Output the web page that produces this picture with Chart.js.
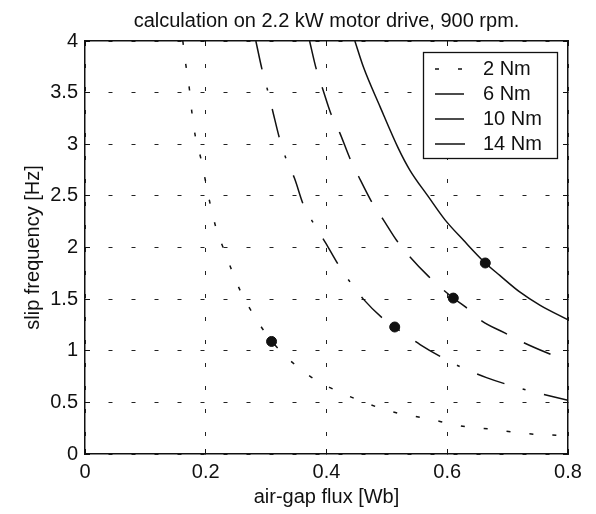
<!DOCTYPE html>
<html>
<head>
<meta charset="utf-8">
<script src="https://cdn.jsdelivr.net/npm/chart.js@4.4.1/dist/chart.umd.min.js"></script>
<style>
  html, body { margin: 0; padding: 0; background: #fff; }
  canvas { display: block; }
</style>
</head>
<body>
<canvas id="slip_chart" width="596" height="514"></canvas>
<script>
// values
const xTicks = [0, 0.2, 0.4, 0.6, 0.8];
const yTicks = [0, 0.5, 1, 1.5, 2, 2.5, 3, 3.5, 4];

const labels = ["2 Nm", "6 Nm", "10 Nm", "14 Nm"];

const flux2 = [0.162, 0.167, 0.173, 0.177, 0.183, 0.192, 0.207, 0.217, 0.230, 0.243, 0.258, 0.278, 0.298, 0.323, 0.351, 0.381, 0.414, 0.450, 0.486, 0.522, 0.560, 0.635, 0.674, 0.712, 0.748, 0.787, 0.800];
const slip2 = [4.00, 3.77, 3.53, 3.31, 3.07, 2.86, 2.43, 2.19, 1.98, 1.78, 1.57, 1.36, 1.18, 1.00, 0.85, 0.72, 0.62, 0.53, 0.45, 0.39, 0.35, 0.26, 0.24, 0.21, 0.19, 0.18, 0.17];

const flux6 = [0.283, 0.293, 0.303, 0.311, 0.322, 0.333, 0.347, 0.362, 0.379, 0.398, 0.421, 0.441, 0.461, 0.494, 0.513, 0.555, 0.593, 0.627, 0.665, 0.701, 0.737, 0.800];
const slip6 = [4.00, 3.73, 3.51, 3.32, 3.06, 2.86, 2.67, 2.41, 2.23, 2.05, 1.82, 1.65, 1.50, 1.31, 1.23, 1.06, 0.93, 0.83, 0.74, 0.67, 0.61, 0.52];

const flux10 = [0.372, 0.383, 0.394, 0.407, 0.422, 0.439, 0.453, 0.475, 0.494, 0.516, 0.538, 0.569, 0.610, 0.629, 0.657, 0.696, 0.726, 0.765, 0.800];
const slip10 = [4.00, 3.73, 3.53, 3.30, 3.11, 2.86, 2.69, 2.44, 2.27, 2.07, 1.91, 1.72, 1.51, 1.43, 1.29, 1.17, 1.08, 0.98, 0.90];

const flux14 = [0.447, 0.461, 0.489, 0.519, 0.538, 0.569, 0.596, 0.627, 0.663, 0.687, 0.720, 0.754, 0.800];
const slip14 = [4.00, 3.75, 3.36, 2.96, 2.75, 2.49, 2.27, 2.07, 1.85, 1.73, 1.57, 1.44, 1.30];

// operating points (black dots)
const opFlux = [0.309, 0.513, 0.610, 0.663];
const opSlip = [1.09, 1.23, 1.51, 1.85];

const FONT = "'Liberation Sans', Arial, Helvetica, sans-serif";
const INK = "#111";

function toPoints(xs, ys) {
    return xs.map((x, i) => ({ x: x, y: ys[i] }));
}

function curve(label, xs, ys, dash) {
    return {
        label: label,
        data: toPoints(xs, ys),
        showLine: true,
        borderColor: INK,
        borderWidth: 1.5,
        borderDash: dash,
        pointRadius: 0,
        cubicInterpolationMode: "monotone",
        fill: false,
    };
}

// legend drawn inside the plot, like the matlab box
const boxLegend = {
    id: "boxLegend",
    afterDraw(chart) {
        const { ctx, chartArea } = chart;
        const w = 134, h = 106;
        const left = chartArea.right - 11 - w;
        const top = chartArea.top + 11;
        ctx.save();
        ctx.fillStyle = "#fff";
        ctx.fillRect(left, top, w, h);
        ctx.strokeStyle = INK;
        ctx.lineWidth = 1.3;
        ctx.strokeRect(left + 0.5, top + 0.5, w, h);
        ctx.font = "20px " + FONT;
        ctx.textBaseline = "middle";
        ctx.fillStyle = INK;
        chart.data.datasets.slice(0, 4).forEach((ds, i) => {
            const y = top + 17 + i * 25;
            ctx.setLineDash(ds.borderDash || []);
            ctx.lineWidth = ds.borderWidth;
            ctx.beginPath();
            ctx.moveTo(left + 12, y);
            ctx.lineTo(left + 42, y);
            ctx.stroke();
            ctx.setLineDash([]);
            ctx.fillText(ds.label, left + 60, y);
        });
        ctx.restore();
    },
};

const setTicks = (list) => (scale) => {
    scale.ticks = list.map((v) => ({ value: v }));
};

// dotted matlab grid; in v4 the grid dash lives under "border"
const gridDotted = {
    color: "#222",
    lineWidth: 1,
    tickLength: -5,
    tickColor: INK,
    tickWidth: 1,
    tickBorderDash: [],
};
const frame = { display: true, color: INK, width: 1.5, dash: [4, 19] };

const slip_chart = document.getElementById("slip_chart");

new Chart(slip_chart, {
    type: "scatter",
    data: {
        datasets: [
            curve(labels[0], flux2, slip2, [4, 19]),
            curve(labels[1], flux6, slip6, [29, 19, 3, 19]),
            curve(labels[2], flux10, slip10, [29, 19]),
            curve(labels[3], flux14, slip14, []),
            {
                label: "operating point",
                data: toPoints(opFlux, opSlip),
                showLine: false,
                pointRadius: 5,
                pointBackgroundColor: INK,
                pointBorderColor: INK,
            },
        ],
    },
    options: {
        responsive: false,
        animation: false,
        layout: { padding: { left: 0, right: 28, top: 0, bottom: 0 } },
        plugins: {
            legend: { display: false },
            tooltip: { enabled: false },
        },
        scales: {
            x: {
                type: "linear",
                position: "bottom",
                min: 0,
                max: 0.8,
                afterBuildTicks: setTicks(xTicks),
                afterFit: (s) => { s.height = 60; },
                grid: gridDotted,
                border: frame,
                ticks: {
                    autoSkip: false,
                    maxRotation: 0,
                    padding: 11,
                    color: INK,
                    font: { family: FONT, size: 20 },
                    callback: (v) => String(v),
                },
                title: {
                    display: true,
                    text: "air-gap flux [Wb]",
                    color: INK,
                    font: { family: FONT, size: 20 },
                    padding: { top: 0, bottom: 5 },
                },
            },
            y: {
                type: "linear",
                position: "left",
                min: 0,
                max: 4,
                afterBuildTicks: setTicks(yTicks),
                afterFit: (s) => { s.width = 85; },
                grid: gridDotted,
                border: frame,
                ticks: {
                    autoSkip: false,
                    padding: 12,
                    color: INK,
                    font: { family: FONT, size: 20 },
                    callback: (v) => String(v),
                },
                title: {
                    display: true,
                    text: "slip frequency [Hz]",
                    color: INK,
                    font: { family: FONT, size: 20 },
                    padding: { top: 21, bottom: 0 },
                },
            },
            // top and right axes only close the box and carry the title
            x2: {
                type: "linear",
                position: "top",
                min: 0,
                max: 0.8,
                afterBuildTicks: setTicks(xTicks),
                afterFit: (s) => { s.height = 41; },
                grid: { drawOnChartArea: false, tickLength: -5, color: INK, tickBorderDash: [] },
                border: { display: true, color: INK, width: 1.5 },
                ticks: { display: false },
                title: {
                    display: true,
                    text: "calculation on 2.2 kW motor drive, 900 rpm.",
                    color: INK,
                    font: { family: FONT, size: 20 },
                    padding: { top: 9, bottom: 0 },
                },
            },
            y2: {
                type: "linear",
                position: "right",
                min: 0,
                max: 4,
                afterBuildTicks: setTicks(yTicks),
                afterFit: (s) => { s.width = 0; },
                grid: { drawOnChartArea: false, tickLength: -5, color: INK, tickBorderDash: [] },
                border: { display: true, color: INK, width: 1.5 },
                ticks: { display: false },
            },
        },
    },
    plugins: [boxLegend],
});
</script>
</body>
</html>
